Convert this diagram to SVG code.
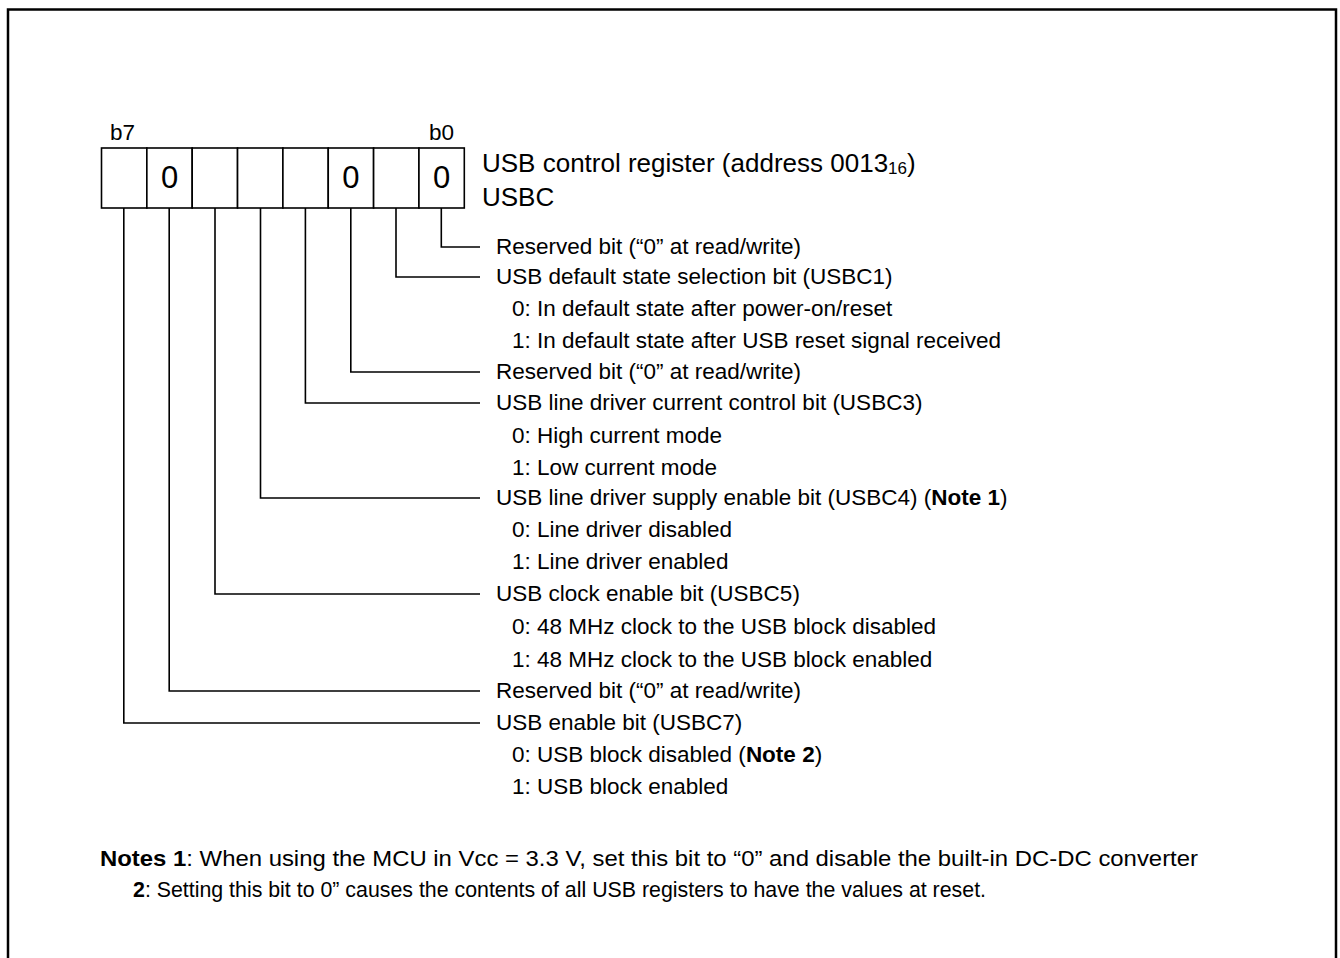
<svg xmlns="http://www.w3.org/2000/svg" width="1340" height="958" viewBox="0 0 1340 958">
<style>
text{font-family:"Liberation Sans",Arial,sans-serif;fill:#000}
.lbl{font-size:22.5px}
.ttl{font-size:26px}
.bit{font-size:31px;text-anchor:middle}
.b{font-weight:bold}
.cell{fill:#fff;stroke:#000;stroke-width:1.6}
.ln{fill:none;stroke:#000;stroke-width:1.6}
.note{font-size:22px}
</style>
<rect x="0" y="0" width="1340" height="958" fill="#fff"/>
<path d="M8,965 V9.5 H1336 V965" fill="none" stroke="#000" stroke-width="2.5"/>
<g id="register">
<rect class="cell" x="101.5" y="148" width="45.35" height="60"/>
<rect class="cell" x="146.85" y="148" width="45.35" height="60"/>
<rect class="cell" x="192.2" y="148" width="45.35" height="60"/>
<rect class="cell" x="237.55" y="148" width="45.35" height="60"/>
<rect class="cell" x="282.9" y="148" width="45.35" height="60"/>
<rect class="cell" x="328.25" y="148" width="45.35" height="60"/>
<rect class="cell" x="373.6" y="148" width="45.35" height="60"/>
<rect class="cell" x="418.95" y="148" width="45.35" height="60"/>
<text class="bit" x="169.5" y="188">0</text>
<text class="bit" x="350.9" y="188">0</text>
<text class="bit" x="441.6" y="188">0</text>
<text class="lbl" x="110" y="140">b7</text>
<text class="lbl" x="429" y="140">b0</text>
</g>
<g id="title">
<text class="ttl" x="482" y="172">USB control register (address 0013<tspan font-size="17" dy="2">16</tspan><tspan dy="-2">)</tspan></text>
<text class="ttl" x="482" y="206">USBC</text>
</g>
<g id="connectors">
<path class="ln" d="M441.3,208 V247 H480"/>
<path class="ln" d="M396,208 V277 H480"/>
<path class="ln" d="M350.8,208 V372 H480"/>
<path class="ln" d="M305.4,208 V403 H480"/>
<path class="ln" d="M260.5,208 V498 H480"/>
<path class="ln" d="M215,208 V594 H480"/>
<path class="ln" d="M169.2,208 V691 H480"/>
<path class="ln" d="M123.8,208 V723 H480"/>
</g>
<g id="bit0"><text class="lbl" x="496" y="254">Reserved bit (“0” at read/write)</text></g>
<g id="bit1">
<text class="lbl" x="496" y="284">USB default state selection bit (USBC1)</text>
<text class="lbl" x="512" y="316">0: In default state after power-on/reset</text>
<text class="lbl" x="512" y="348">1: In default state after USB reset signal received</text>
</g>
<g id="bit2"><text class="lbl" x="496" y="379">Reserved bit (“0” at read/write)</text></g>
<g id="bit3">
<text class="lbl" x="496" y="410">USB line driver current control bit (USBC3)</text>
<text class="lbl" x="512" y="443">0: High current mode</text>
<text class="lbl" x="512" y="475">1: Low current mode</text>
</g>
<g id="bit4">
<text class="lbl" x="496" y="505">USB line driver supply enable bit (USBC4) (<tspan class="b">Note 1</tspan>)</text>
<text class="lbl" x="512" y="537">0: Line driver disabled</text>
<text class="lbl" x="512" y="569">1: Line driver enabled</text>
</g>
<g id="bit5">
<text class="lbl" x="496" y="601">USB clock enable bit (USBC5)</text>
<text class="lbl" x="512" y="634">0: 48 MHz clock to the USB block disabled</text>
<text class="lbl" x="512" y="667">1: 48 MHz clock to the USB block enabled</text>
</g>
<g id="bit6"><text class="lbl" x="496" y="698">Reserved bit (“0” at read/write)</text></g>
<g id="bit7">
<text class="lbl" x="496" y="730">USB enable bit (USBC7)</text>
<text class="lbl" x="512" y="762">0: USB block disabled (<tspan class="b">Note 2</tspan>)</text>
<text class="lbl" x="512" y="794">1: USB block enabled</text>
</g>
<g id="notes">
<text class="note" x="100" y="866" textLength="1098" lengthAdjust="spacingAndGlyphs"><tspan class="b">Notes 1</tspan>: When using the MCU in Vcc = 3.3 V, set this bit to “0” and disable the built-in DC-DC converter</text>
<text class="note" x="133" y="897" textLength="853" lengthAdjust="spacingAndGlyphs"><tspan class="b">2</tspan>: Setting this bit to 0” causes the contents of all USB registers to have the values at reset.</text>
</g>
</svg>
